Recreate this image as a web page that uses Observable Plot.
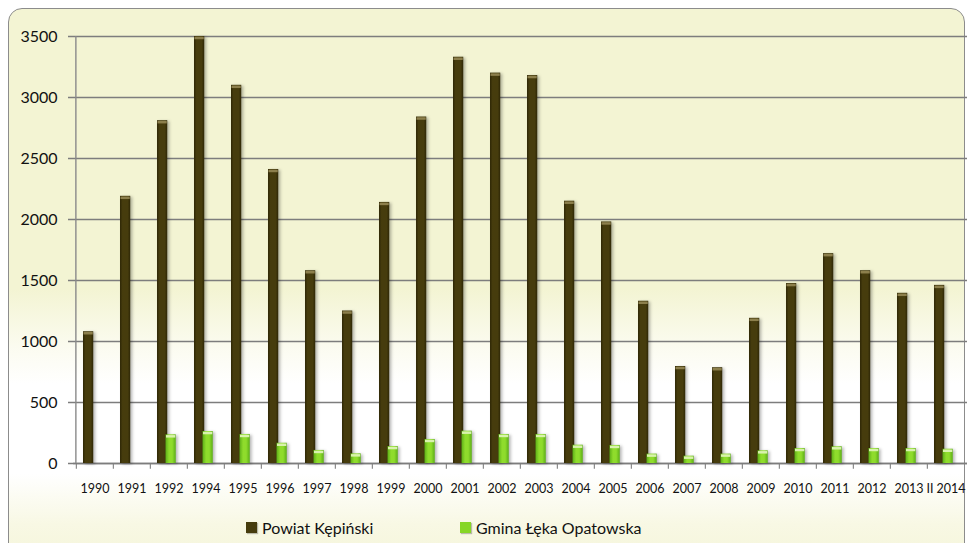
<!DOCTYPE html>
<html>
<head>
<meta charset="utf-8">
<script src="https://cdn.jsdelivr.net/npm/d3@7"></script>
<script src="https://cdn.jsdelivr.net/npm/@observablehq/plot@0.6"></script>
<style>
  html, body { margin: 0; padding: 0; background: #fff; }
  #wrap { position: relative; width: 967px; height: 543px; overflow: hidden; font-family: Lato, "Open Sans", sans-serif; }
  #frame { position: absolute; left: 8px; top: 8px; width: 955px; height: 560px; border: 1.5px solid #8c8c8c; border-radius: 14px;
    background: linear-gradient(to bottom, #f3f4d3 0%, #f3f4d3 50%, #fbfbef 60%, #ffffff 67%, #ffffff 83%, #f8f8e4 92%, #f4f5d8 100%); }
  #chart { position: absolute; left: 0; top: 0; }
  #legend { position: absolute; top: 516px; left: 0; width: 967px; height: 22px; font-size: 16px; color: #111; }
  .li { position: absolute; top: 0; display: flex; align-items: center; height: 22px; }
  .sw { width: 11px; height: 11px; margin-right: 5px; box-shadow: 1px 1px 1px rgba(0,0,0,0.25); }
</style>
</head>
<body>
<div id="wrap">
  <div id="frame"></div>
  <div id="chart"></div>
  <div id="legend"></div>
</div>
<script>
const years = ["1990","1991","1992","1994","1995","1996","1997","1998","1999","2000","2001","2002","2003","2004","2005","2006","2007","2008","2009","2010","2011","2012","2013","II 2014"];
const powiat = [1080, 2190, 2810, 3500, 3100, 2410, 1580, 1250, 2140, 2840, 3330, 3200, 3180, 2150, 1980, 1330, 795, 785, 1190, 1475, 1720, 1580, 1395, 1460];
const gmina = [0, 0, 235, 262, 238, 166, 107, 79, 139, 197, 265, 238, 238, 150, 148, 77, 60, 77, 104, 123, 137, 123, 123, 117];
const seriesNames = ["Powiat Kępiński", "Gmina Łęka Opatowska"];
const yTicks = [0, 500, 1000, 1500, 2000, 2500, 3000, 3500];

const dataP = years.map((y, i) => ({year: y, value: powiat[i]}));
const dataG = years.map((y, i) => ({year: y, value: gmina[i]})).filter(d => d.value > 0);

const W = 967, H = 505, ML = 73, MR = 0, MT = 36, MB = 42;
const bw = (W - ML - MR) / years.length;

const chart = Plot.plot({
  width: W, height: H,
  marginLeft: ML, marginRight: MR, marginTop: MT, marginBottom: MB,
  style: {background: "transparent", overflow: "visible", fontFamily: "Lato, 'Open Sans', sans-serif", color: "#111"},
  x: {domain: years, padding: 0, label: null},
  y: {domain: [0, 3500], ticks: yTicks, label: null},
  marks: [
    Plot.gridY(yTicks, {stroke: "#7d7d7d", strokeOpacity: 1, strokeWidth: 1.4, x1: null, x2: null, insetLeft: -5}),
    Plot.ruleX(years, {x: d => d, y1: 0, y2: -48, dx: -bw / 2, stroke: "#8a8a8a", strokeWidth: 1.2}),
    Plot.ruleY([0], {stroke: "#7d7d7d", strokeWidth: 1.4}),
    Plot.axisY({ticks: yTicks, tickSize: 0, tickPadding: 16, fontSize: 16, tickFormat: d => String(d)}),
    Plot.axisX({tickSize: 0, tickPadding: 21, fontSize: 12.5}),
    Plot.ruleX([years[0]], {dx: -bw / 2 - 0.5, y1: 0, y2: 3500, stroke: "#8a8a8a", strokeWidth: 1.4}),
    Plot.barY(dataP, {x: "year", y: "value", fill: "url(#gDark)", insetLeft: 7, insetRight: bw - 17.5}),
    Plot.tickY(dataP, {x: "year", y: "value", stroke: "#8c7f4c", strokeWidth: 2.5, dy: 1.5, insetLeft: 7.5, insetRight: bw - 17}),
    Plot.barY(dataG, {x: "year", y: "value", fill: "url(#gGreen)", insetLeft: 15.5, insetRight: bw - 26}),
    Plot.tickY(dataG, {x: "year", y: "value", stroke: "#d9f2ad", strokeWidth: 2.5, dy: 1.5, insetLeft: 16, insetRight: bw - 25.5})
  ]
});

// gradients for bars
const svg = d3.select(chart);
const defs = svg.insert("defs", ":first-child");
const gd = defs.append("linearGradient").attr("id", "gDark").attr("x1", "0").attr("x2", "1").attr("y1", "0").attr("y2", "0");
gd.append("stop").attr("offset", "0%").attr("stop-color", "#2e2706");
gd.append("stop").attr("offset", "25%").attr("stop-color", "#463c0d");
gd.append("stop").attr("offset", "75%").attr("stop-color", "#463c0d");
gd.append("stop").attr("offset", "100%").attr("stop-color", "#2e2706");
const gg = defs.append("linearGradient").attr("id", "gGreen").attr("x1", "0").attr("x2", "1").attr("y1", "0").attr("y2", "0");
gg.append("stop").attr("offset", "0%").attr("stop-color", "#5cae17");
gg.append("stop").attr("offset", "35%").attr("stop-color", "#8fdc2c");
gg.append("stop").attr("offset", "65%").attr("stop-color", "#8fdc2c");
gg.append("stop").attr("offset", "100%").attr("stop-color", "#5cae17");
svg.selectAll('g[aria-label="bar"]').style("filter", "drop-shadow(2px 1px 1.5px rgba(0,0,0,0.28))");

document.getElementById("chart").appendChild(chart);

// legend
const legend = document.getElementById("legend");
const legendColors = ["#463c0d", "#86d626"];
const legendX = [246, 460];
seriesNames.forEach((name, i) => {
  const item = document.createElement("div");
  item.className = "li";
  item.style.left = legendX[i] + "px";
  const sw = document.createElement("div");
  sw.className = "sw";
  sw.style.background = legendColors[i];
  item.appendChild(sw);
  const t = document.createElement("span");
  t.textContent = name;
  item.appendChild(t);
  legend.appendChild(item);
});
</script>
</body>
</html>
